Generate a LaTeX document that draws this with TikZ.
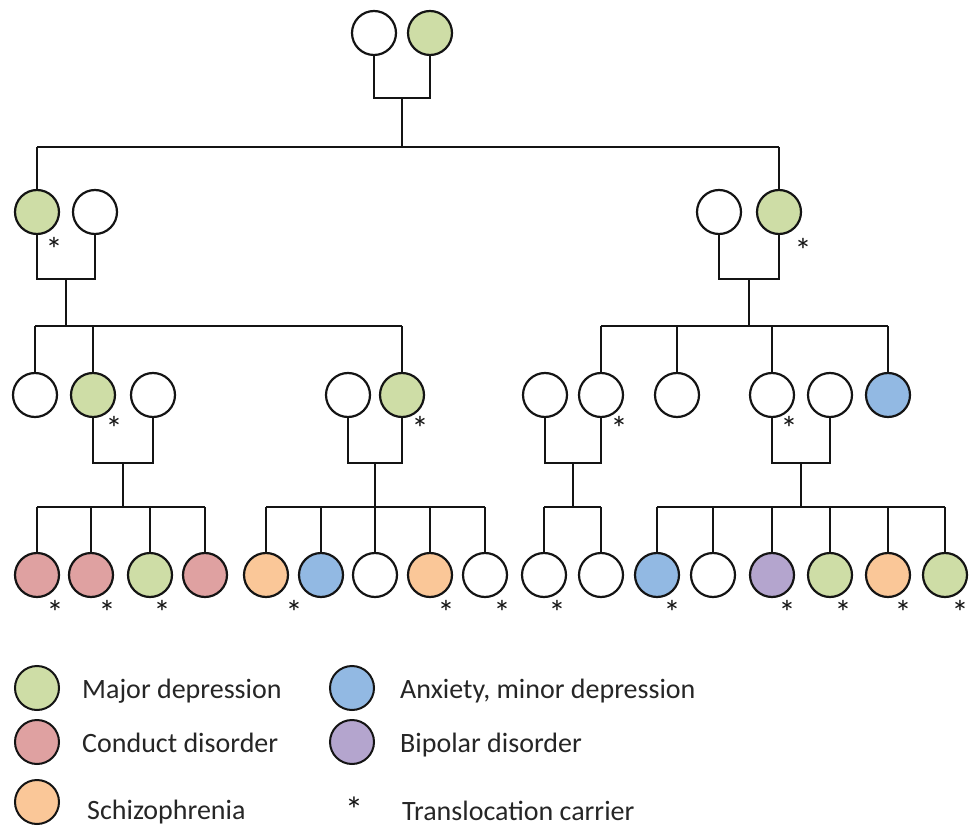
\documentclass[tikz,border=0pt]{standalone}
\usepackage{fontspec}
\setmainfont{Carlito}
\usetikzlibrary{calc}
\definecolor{mdgreen}{RGB}{206,221,166}
\definecolor{cdpink}{RGB}{223,161,161}
\definecolor{szorange}{RGB}{250,199,152}
\definecolor{axblue}{RGB}{146,185,227}
\definecolor{bppurple}{RGB}{180,165,206}
\definecolor{ink}{RGB}{20,20,20}
\begin{document}
\begin{tikzpicture}[x=1pt,y=-1pt,
  person/.style={circle,draw=ink,line width=2.2pt,minimum size=44pt,inner sep=0pt,fill=white},
  link/.style={draw=ink,line width=2.2pt,line join=miter},
  carrier/.style={font=\fontsize{34}{34}\selectfont,inner sep=0pt,text=ink},
  legcarrier/.style={font=\fontsize{36}{36}\selectfont,inner sep=0pt,text=ink},
  legtxt/.style={font=\fontsize{28}{28}\selectfont,anchor=base west,inner sep=0pt,text=black!85},
  legdot/.style={circle,draw=ink,line width=2pt,minimum size=44pt,inner sep=0pt}]
\useasboundingbox (0,0) rectangle (969,834);
\fill[white] (0,0) rectangle (969,834);

% generation 1
\node[person] (A1) at (374,33) {};
\node[person,fill=mdgreen] (A2) at (430,33) {};
% generation 2
\node[person,fill=mdgreen] (B1) at (37,212) {};
\node[person] (B2) at (95,212) {};
\node[person] (B3) at (719,212) {};
\node[person,fill=mdgreen] (B4) at (779,212) {};
% generation 3
\node[person] (C1) at (35,395) {};
\node[person,fill=mdgreen] (C2) at (93,395) {};
\node[person] (C3) at (153,395) {};
\node[person] (C4) at (348,395) {};
\node[person,fill=mdgreen] (C5) at (402,395) {};
\node[person] (C6) at (545,395) {};
\node[person] (C7) at (601,395) {};
\node[person] (C8) at (677,395) {};
\node[person] (C9) at (772,395) {};
\node[person] (C10) at (830,395) {};
\node[person,fill=axblue] (C11) at (888,395) {};
% generation 4
\node[person,fill=cdpink] (D1) at (37,575) {};
\node[person,fill=cdpink] (D2) at (91,575) {};
\node[person,fill=mdgreen] (D3) at (150,575) {};
\node[person,fill=cdpink] (D4) at (205,575) {};
\node[person,fill=szorange] (D5) at (266,575) {};
\node[person,fill=axblue] (D6) at (321,575) {};
\node[person] (D7) at (375,575) {};
\node[person,fill=szorange] (D8) at (430,575) {};
\node[person] (D9) at (485,575) {};
\node[person] (D10) at (544,575) {};
\node[person] (D11) at (601,575) {};
\node[person,fill=axblue] (D12) at (657,575) {};
\node[person] (D13) at (713,575) {};
\node[person,fill=bppurple] (D14) at (772,575) {};
\node[person,fill=mdgreen] (D15) at (830,575) {};
\node[person,fill=szorange] (D16) at (888,575) {};
\node[person,fill=mdgreen] (D17) at (945,575) {};

% helper levels
\coordinate (yA) at (0,98);   \coordinate (sA) at (0,147);
\coordinate (yB) at (0,279);  \coordinate (sB) at (0,326);
\coordinate (yC) at (0,463);  \coordinate (sC) at (0,507);

% couple A1-A2
\draw[link] (A1.south) -- (A1.south |- yA) -- (A2.south |- yA) -- (A2.south);
\coordinate (mA) at ($(A1.south |- yA)!.5!(A2.south |- yA)$);
\draw[link] (mA) -- (mA |- sA);
\draw[link] (B1.north |- sA) -- (B4.north |- sA);
\foreach \c in {B1,B4} \draw[link] (\c.north |- sA) -- (\c.north);

% couple B1-B2
\draw[link] (B1.south) -- (B1.south |- yB) -- (B2.south |- yB) -- (B2.south);
\coordinate (mB) at ($(B1.south |- yB)!.5!(B2.south |- yB)$);
\draw[link] (mB) -- (mB |- sB);
\draw[link] (C1.north |- sB) -- (C5.north |- sB);
\foreach \c in {C1,C2,C5} \draw[link] (\c.north |- sB) -- (\c.north);

% couple B3-B4
\draw[link] (B3.south) -- (B3.south |- yB) -- (B4.south |- yB) -- (B4.south);
\coordinate (mB2) at ($(B3.south |- yB)!.5!(B4.south |- yB)$);
\draw[link] (mB2) -- (mB2 |- sB);
\draw[link] (C7.north |- sB) -- (C11.north |- sB);
\foreach \c in {C7,C8,C9,C11} \draw[link] (\c.north |- sB) -- (\c.north);

% couple C2-C3
\draw[link] (C2.south) -- (C2.south |- yC) -- (C3.south |- yC) -- (C3.south);
\coordinate (mC1) at ($(C2.south |- yC)!.5!(C3.south |- yC)$);
\draw[link] (mC1) -- (mC1 |- sC);
\draw[link] (D1.north |- sC) -- (D4.north |- sC);
\foreach \c in {D1,D2,D3,D4} \draw[link] (\c.north |- sC) -- (\c.north);

% couple C4-C5
\draw[link] (C4.south) -- (C4.south |- yC) -- (C5.south |- yC) -- (C5.south);
\coordinate (mC2) at ($(C4.south |- yC)!.5!(C5.south |- yC)$);
\draw[link] (mC2) -- (mC2 |- sC);
\draw[link] (D5.north |- sC) -- (D9.north |- sC);
\foreach \c in {D5,D6,D7,D8,D9} \draw[link] (\c.north |- sC) -- (\c.north);

% couple C6-C7
\draw[link] (C6.south) -- (C6.south |- yC) -- (C7.south |- yC) -- (C7.south);
\coordinate (mC3) at ($(C6.south |- yC)!.5!(C7.south |- yC)$);
\draw[link] (mC3) -- (mC3 |- sC);
\draw[link] (D10.north |- sC) -- (D11.north |- sC);
\foreach \c in {D10,D11} \draw[link] (\c.north |- sC) -- (\c.north);

% couple C9-C10
\draw[link] (C9.south) -- (C9.south |- yC) -- (C10.south |- yC) -- (C10.south);
\coordinate (mC4) at ($(C9.south |- yC)!.5!(C10.south |- yC)$);
\draw[link] (mC4) -- (mC4 |- sC);
\draw[link] (D12.north |- sC) -- (D17.north |- sC);
\foreach \c in {D12,D13,D14,D15,D16,D17} \draw[link] (\c.north |- sC) -- (\c.north);

% translocation carriers
\node[carrier] (t1) at (54,249) {*};
\node[carrier] (t2) at (803,250) {*};
\node[carrier] (t3) at (114,428) {*};
\node[carrier] (t4) at (420,428) {*};
\node[carrier] (t5) at (619,428) {*};
\node[carrier] (t6) at (789,428) {*};
\foreach \x [count=\i] in {55,107,162,294,446,502,557,672,787,843,903,960}
  \node[carrier] (u\i) at (\x,612) {*};

% legend
\node[legdot,fill=mdgreen] (L1) at (37,688) {};
\node[legdot,fill=cdpink] (L2) at (37,742) {};
\node[legdot,fill=szorange] (L3) at (37,802) {};
\node[legdot,fill=axblue] (L4) at (352,688) {};
\node[legdot,fill=bppurple] (L5) at (352,742) {};
\node[legcarrier] (L6) at (354,810) {*};
\node[legtxt] (T1) at (82,698) {Major depression};
\node[legtxt] (T2) at (82,752) {Conduct disorder};
\node[legtxt] (T3) at (87,819) {Schizophrenia};
\node[legtxt] (T4) at (400,698) {Anxiety, minor depression};
\node[legtxt] (T5) at (400,752) {Bipolar disorder};
\node[legtxt] (T6) at (402,820) {Translocation carrier};
\end{tikzpicture}
\end{document}
